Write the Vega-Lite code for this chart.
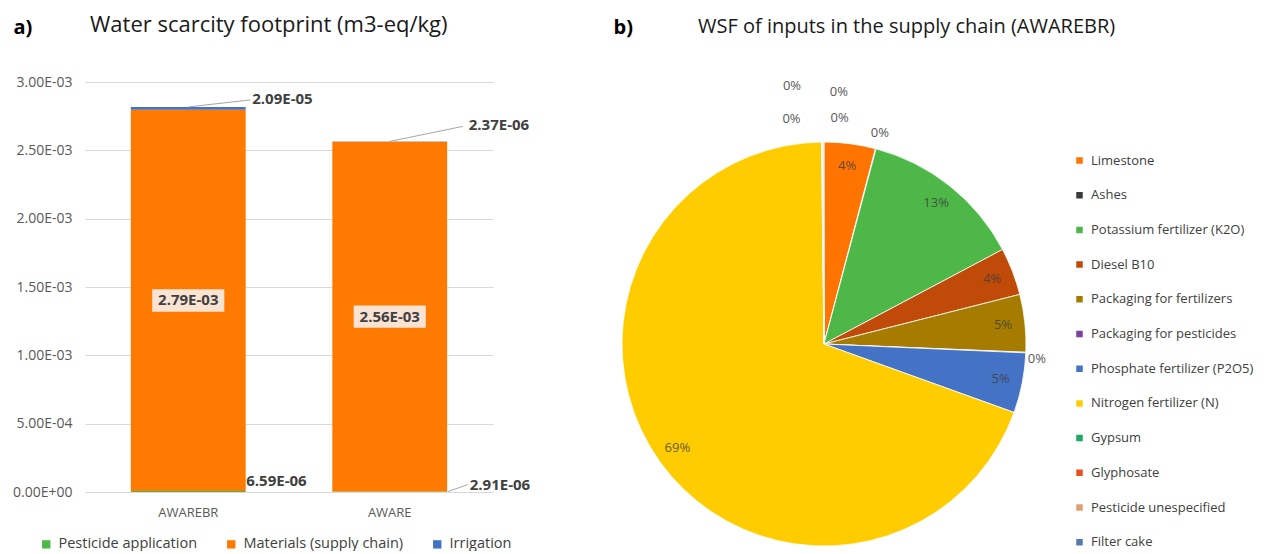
{
  "$schema": "https://vega.github.io/schema/vega-lite/v6.json",
  "background": "white",
  "padding": {"left": 12, "top": 14, "right": 0, "bottom": 0},
  "spacing": 82,
  "resolve": {"scale": {"color": "independent"}, "legend": {"color": "independent"}},
  "config": {
    "font": "Open Sans",
    "view": {"stroke": null},
    "title": {"fontSize": 21, "fontWeight": "normal", "color": "#1a1a1a", "anchor": "start", "frame": "group"}
  },
  "hconcat": [
    {
      "width": 408,
      "height": 410,
      "title": {"text": "Water scarcity footprint  (m3-eq/kg)", "dx": 5, "offset": -20, "fontSize": 22},
      "data": {
        "values": [
          {"scenario": "AWAREBR", "part": "Pesticide application", "value": 0.00000659},
          {"scenario": "AWAREBR", "part": "Materials (supply chain)", "value": 0.00279},
          {"scenario": "AWAREBR", "part": "Irrigation", "value": 0.0000209},
          {"scenario": "AWARE", "part": "Pesticide application", "value": 0.00000291},
          {"scenario": "AWARE", "part": "Materials (supply chain)", "value": 0.00256},
          {"scenario": "AWARE", "part": "Irrigation", "value": 0.00000237}
        ]
      },
      "transform": [
        {"calculate": "indexof(['Pesticide application','Materials (supply chain)','Irrigation'], datum.part)", "as": "ord"},
        {"stack": "value", "groupby": ["scenario"], "sort": [{"field": "ord"}], "as": ["v0", "v1"]},
        {"calculate": "(datum.v0 + datum.v1) / 2", "as": "mid"},
        {"calculate": "replace(replace(format(datum.value, '.2e'), 'e-', 'E-0'), 'e+', 'E+0')", "as": "label"}
      ],
      "encoding": {
        "x": {
          "field": "scenario", "type": "nominal", "sort": ["AWAREBR", "AWARE"],
          "scale": {"paddingInner": 0.43, "paddingOuter": 0.2275},
          "axis": {"title": null, "labelAngle": 0, "ticks": false, "domain": false, "labelFontSize": 13, "labelColor": "#595959", "labelPadding": 14}
        }
      },
      "layer": [
        {
          "mark": {"type": "bar"},
          "encoding": {
            "y": {
              "field": "v0", "type": "quantitative",
              "scale": {"domain": [0, 0.003], "nice": false},
              "axis": {
                "values": [0, 0.0005, 0.001, 0.0015, 0.002, 0.0025, 0.003],
                "labelExpr": "replace(replace(format(datum.value, '.2e'), 'e-', 'E-0'), 'e+', 'E+0')",
                "gridColor": "#D9D9D9", "domain": false, "ticks": false,
                "labelPadding": 13, "labelFontSize": 14, "labelColor": "#595959",
                "title": "a)", "titleAngle": 0, "titleAlign": "left", "titleBaseline": "middle",
                "titleX": -72, "titleY": -55, "titleFontSize": 20, "titleFontWeight": "bold", "titleColor": "#000000"
              }
            },
            "y2": {"field": "v1"},
            "color": {
              "field": "part", "type": "nominal",
              "scale": {"domain": ["Pesticide application", "Materials (supply chain)", "Irrigation"], "range": ["#4EB848", "#FF7A00", "#4472C4"]},
              "legend": {
                "orient": "none", "legendX": -46, "legendY": 455, "direction": "horizontal", "title": null,
                "symbolType": "square", "symbolSize": 70, "labelFontSize": 14.5, "labelColor": "#404040",
                "columnPadding": 26, "labelOffset": 5, "labelLimit": 300
              }
            }
          }
        },
        {
          "transform": [{"filter": "datum.part == 'Materials (supply chain)'"}],
          "mark": {"type": "point", "shape": "M-1,-0.31L1,-0.31L1,0.31L-1,0.31Z", "size": 5200, "filled": true, "color": "#FBE3D4", "opacity": 1},
          "encoding": {"y": {"field": "mid", "type": "quantitative"}}
        },
        {
          "transform": [{"filter": "datum.part == 'Materials (supply chain)'"}],
          "mark": {"type": "text", "fontWeight": "bold", "fontSize": 15, "color": "#404040"},
          "encoding": {"y": {"field": "mid", "type": "quantitative"}, "text": {"field": "label"}}
        },
        {
          "transform": [{"filter": "datum.part == 'Irrigation' && datum.scenario == 'AWAREBR'"}],
          "mark": {"type": "rule", "color": "#A6A6A6", "strokeWidth": 1, "x2Offset": 62, "y2Offset": -7},
          "encoding": {"y": {"field": "v1", "type": "quantitative"}, "x2": {"field": "scenario"}, "y2": {"field": "v1"}}
        },
        {
          "transform": [{"filter": "datum.part == 'Irrigation' && datum.scenario == 'AWARE'"}],
          "mark": {"type": "rule", "color": "#A6A6A6", "strokeWidth": 1, "x2Offset": 73, "y2Offset": -15},
          "encoding": {"y": {"field": "v1", "type": "quantitative"}, "x2": {"field": "scenario"}, "y2": {"field": "v1"}}
        },
        {
          "transform": [{"filter": "datum.part == 'Pesticide application' && datum.scenario == 'AWARE'"}],
          "mark": {"type": "rule", "color": "#A6A6A6", "strokeWidth": 1, "xOffset": 58, "x2Offset": 78, "y2Offset": -7},
          "encoding": {"y": {"field": "v1", "type": "quantitative"}, "x2": {"field": "scenario"}, "y2": {"field": "v1"}}
        },
        {
          "transform": [{"filter": "datum.part == 'Irrigation' && datum.scenario == 'AWAREBR'"}],
          "mark": {"type": "text", "fontWeight": "bold", "fontSize": 15, "color": "#404040", "align": "left", "dx": 64, "dy": -8},
          "encoding": {"y": {"field": "v1", "type": "quantitative"}, "text": {"field": "label"}}
        },
        {
          "transform": [{"filter": "datum.part == 'Irrigation' && datum.scenario == 'AWARE'"}],
          "mark": {"type": "text", "fontWeight": "bold", "fontSize": 15, "color": "#404040", "align": "left", "dx": 79, "dy": -16},
          "encoding": {"y": {"field": "v1", "type": "quantitative"}, "text": {"field": "label"}}
        },
        {
          "transform": [{"filter": "datum.part == 'Pesticide application' && datum.scenario == 'AWAREBR'"}],
          "mark": {"type": "text", "fontWeight": "bold", "fontSize": 15, "color": "#404040", "align": "left", "dx": 58, "dy": -10},
          "encoding": {"y": {"field": "v1", "type": "quantitative"}, "text": {"field": "label"}}
        },
        {
          "transform": [{"filter": "datum.part == 'Pesticide application' && datum.scenario == 'AWARE'"}],
          "mark": {"type": "text", "fontWeight": "bold", "fontSize": 15, "color": "#404040", "align": "left", "dx": 80, "dy": -7},
          "encoding": {"y": {"field": "v1", "type": "quantitative"}, "text": {"field": "label"}}
        }
      ]
    },
    {
      "width": 404,
      "height": 464,
      "title": {"text": "WSF of inputs in the supply chain (AWAREBR)", "dx": 76, "offset": -20, "fontSize": 20},
      "data": {
        "values": [
          {"i": 0, "input": "Limestone", "share": 0.041},
          {"i": 1, "input": "Ashes", "share": 0.0005},
          {"i": 2, "input": "Potassium fertilizer (K2O)", "share": 0.131},
          {"i": 3, "input": "Diesel B10", "share": 0.038},
          {"i": 4, "input": "Packaging for fertilizers", "share": 0.046},
          {"i": 5, "input": "Packaging for pesticides", "share": 0.0005},
          {"i": 6, "input": "Phosphate fertilizer (P2O5)", "share": 0.048},
          {"i": 7, "input": "Nitrogen fertilizer (N)", "share": 0.693},
          {"i": 8, "input": "Gypsum", "share": 0.0005},
          {"i": 9, "input": "Glyphosate", "share": 0.0005},
          {"i": 10, "input": "Pesticide unespecified", "share": 0.0005},
          {"i": 11, "input": "Filter cake", "share": 0.0005}
        ]
      },
      "transform": [
        {"stack": "share", "groupby": [], "sort": [{"field": "i"}], "as": ["t0", "t1"]},
        {"calculate": "(datum.t0 + datum.t1) / 2", "as": "tmid"}
      ],
      "encoding": {
        "x": {
          "datum": 0, "type": "quantitative", "scale": {"domain": [-1, 1]},
          "axis": {
            "orient": "top", "labels": false, "ticks": false, "domain": false, "grid": false,
            "title": "b)", "titleAngle": 0, "titleAlign": "left", "titleBaseline": "middle",
            "titleX": -9, "titleY": -55, "titleFontSize": 20, "titleFontWeight": "bold", "titleColor": "#000000"
          }
        },
        "y": {"datum": 0, "type": "quantitative", "scale": {"domain": [-0.4353, 0.5647]}, "axis": null}
      },
      "layer": [
        {
          "mark": {"type": "arc", "outerRadius": 202, "stroke": "white", "strokeWidth": 0.8},
          "encoding": {
            "theta": {"field": "t0", "type": "quantitative", "scale": {"domain": [0, 1], "range": [0, 6.283185307]}},
            "theta2": {"field": "t1"},
            "color": {
              "field": "input", "type": "nominal",
              "scale": {
                "domain": ["Limestone", "Ashes", "Potassium fertilizer (K2O)", "Diesel B10", "Packaging for fertilizers", "Packaging for pesticides", "Phosphate fertilizer (P2O5)", "Nitrogen fertilizer (N)", "Gypsum", "Glyphosate", "Pesticide unespecified", "Filter cake"],
                "range": ["#FF7300", "#3A3A3A", "#4DB748", "#C04A08", "#A67C00", "#7B3FA0", "#4472C4", "#FFCC00", "#1DAA60", "#E8501E", "#E0A070", "#5A78B0"]
              },
              "legend": {
                "orient": "none", "legendX": 451, "legendY": 72, "title": null,
                "symbolType": "square", "symbolSize": 64, "labelFontSize": 13, "labelColor": "#404040",
                "rowPadding": 19.7, "labelOffset": 5, "labelLimit": 300
              }
            }
          }
        },
        {
          "transform": [{"filter": "datum.share >= 0.01"}],
          "mark": {"type": "text", "radius": 180, "fontSize": 13, "color": "#404040", "opacity": 0.8},
          "encoding": {"theta": {"field": "tmid", "type": "quantitative"}, "text": {"field": "share", "format": ".0%"}}
        },
        {
          "transform": [{"filter": "datum.input == 'Ashes'"}],
          "mark": {"type": "text", "radius": 218, "fontSize": 13, "color": "#595959"},
          "encoding": {"theta": {"field": "tmid", "type": "quantitative"}, "text": {"field": "share", "format": ".0%"}}
        },
        {
          "transform": [{"filter": "datum.input == 'Packaging for pesticides'"}],
          "mark": {"type": "text", "radius": 213, "fontSize": 13, "color": "#595959", "dy": 6},
          "encoding": {"theta": {"field": "tmid", "type": "quantitative"}, "text": {"field": "share", "format": ".0%"}}
        },
        {
          "transform": [{"filter": "datum.input == 'Gypsum'"}],
          "mark": {"type": "text", "radius": 225, "fontSize": 13, "color": "#595959", "dx": -30},
          "encoding": {"theta": {"field": "tmid", "type": "quantitative"}, "text": {"field": "share", "format": ".0%"}}
        },
        {
          "transform": [{"filter": "datum.input == 'Glyphosate'"}],
          "mark": {"type": "text", "radius": 258, "fontSize": 13, "color": "#595959", "dx": -30},
          "encoding": {"theta": {"field": "tmid", "type": "quantitative"}, "text": {"field": "share", "format": ".0%"}}
        },
        {
          "transform": [{"filter": "datum.input == 'Pesticide unespecified'"}],
          "mark": {"type": "text", "radius": 252, "fontSize": 13, "color": "#595959", "dx": 16},
          "encoding": {"theta": {"field": "tmid", "type": "quantitative"}, "text": {"field": "share", "format": ".0%"}}
        },
        {
          "transform": [{"filter": "datum.input == 'Filter cake'"}],
          "mark": {"type": "text", "radius": 226, "fontSize": 13, "color": "#595959", "dx": 16},
          "encoding": {"theta": {"field": "tmid", "type": "quantitative"}, "text": {"field": "share", "format": ".0%"}}
        }
      ]
    }
  ]
}
